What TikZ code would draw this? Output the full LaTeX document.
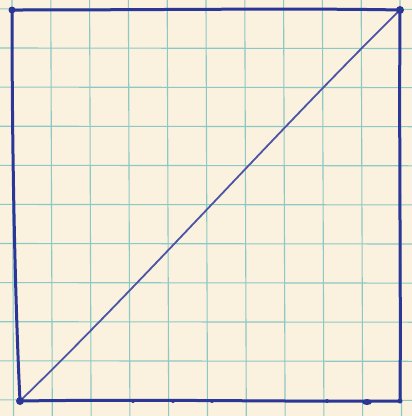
\documentclass[tikz,border=0pt]{standalone}
\usepackage{tikz}

\definecolor{paper}{RGB}{250,242,222}
\definecolor{gridteal}{RGB}{140,200,198}
\definecolor{ink}{RGB}{44,54,150}

\begin{document}
\begin{tikzpicture}[
  x=1pt, y=-1pt,
  gridline/.style={draw=gridteal, line width=1.1pt},
  pen/.style={draw=ink, line width=3pt, line cap=round, line join=round},
  thinpen/.style={draw=ink!85, line width=1.8pt, line cap=round},
  blot/.style={fill=ink}
]
  % paper
  \fill[paper] (0,0) rectangle (412,416);
  \useasboundingbox (0,0) rectangle (412,416);

  % graph paper grid
  \foreach \k in {0,...,10} {
    \draw[gridline] ({12+38.8*\k},0) -- ({13.5+38.8*\k},416);
  }
  \foreach \k in {-1,...,9} {
    \draw[gridline] (0,{48+39.1*\k}) -- (412,{48.5+39.1*\k});
  }

  % corners of the square
  \coordinate (tl) at (12,10);
  \coordinate (tr) at (400,10);
  \coordinate (br) at (400,401);
  \coordinate (bl) at (20,401);

  % the square
  \draw[pen] (tl) .. controls (150,10) and (300,8) .. (tr);
  \draw[pen] (tr) .. controls (399,150) and (401,300) .. (br);
  \draw[pen] (br) .. controls (300,402) and (150,399) .. (bl);
  \draw[pen] (bl) .. controls (15,300) and (12,150) .. (tl);

  % the diagonal
  \draw[thinpen] (bl) .. controls (140,285) and (280,128) .. (tr);

  % ink blots
  \fill[blot] (tl) circle (3.5pt);
  \fill[blot] (tr) circle (4pt);
  \fill[blot] (bl) circle (4pt);
  \fill[blot] (br) circle (2.5pt);
  \foreach \x in {133,173,212,327} {
    \fill[blot] (\x,401) circle (2pt);
  }
  \fill[blot] (367,402) ellipse (5pt and 3pt);
\end{tikzpicture}
\end{document}
